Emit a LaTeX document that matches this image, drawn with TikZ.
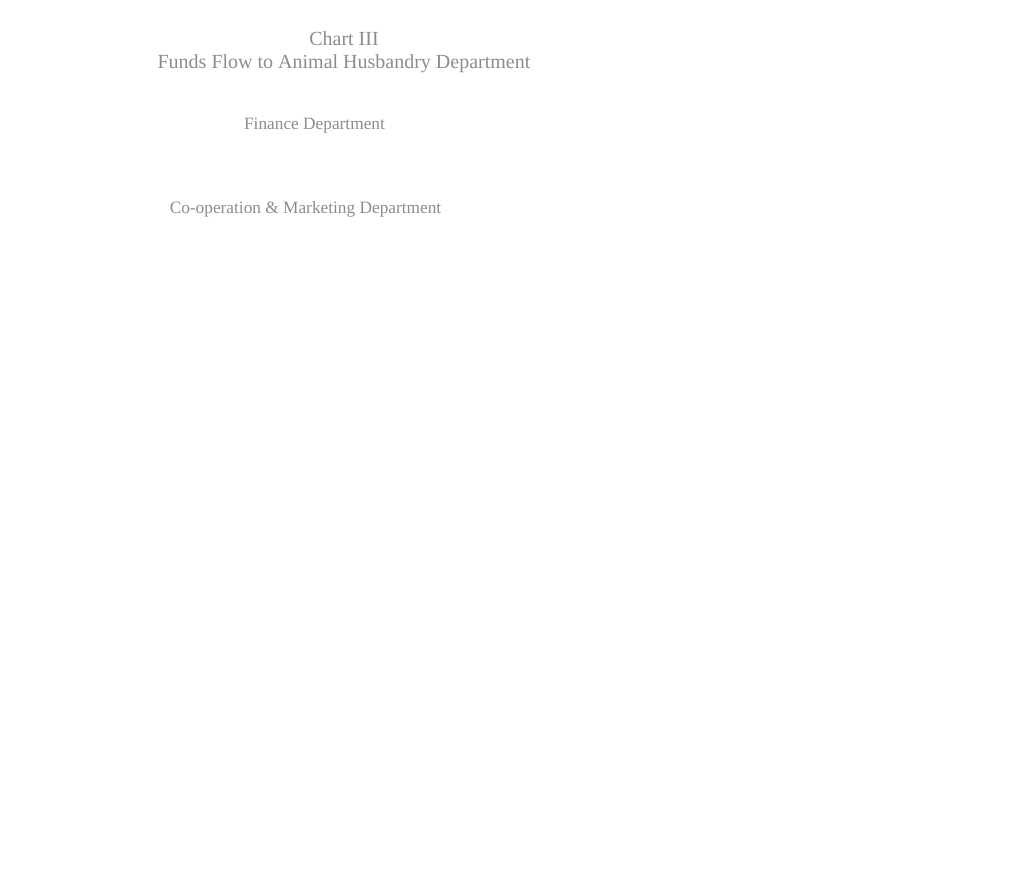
\documentclass[tikz,border=0pt]{standalone}
\usepackage{fontspec}
\setmainfont{Liberation Serif}
\usepackage{tikz}
\colorlet{labelgray}{black!45}

\begin{document}
\begin{tikzpicture}[x=1bp,y=-1bp,
  heading/.style={anchor=base,text=labelgray,inner sep=0pt,font=\fontsize{20bp}{23bp}\selectfont},
  dept/.style={anchor=base,text=labelgray,inner sep=0pt,font=\fontsize{17.3bp}{20bp}\selectfont}]
  \useasboundingbox (0,0) rectangle (1020,876);
  \node[heading] (chart) at (344,45.5) {Chart III};
  \node[heading] (title) at (344,68.5) {Funds Flow to Animal Husbandry Department};
  \node[dept] (finance) at (314.5,129) {Finance Department};
  \node[dept] (coop) at (305.5,213) {Co-operation \& Marketing Department};
\end{tikzpicture}
\end{document}
